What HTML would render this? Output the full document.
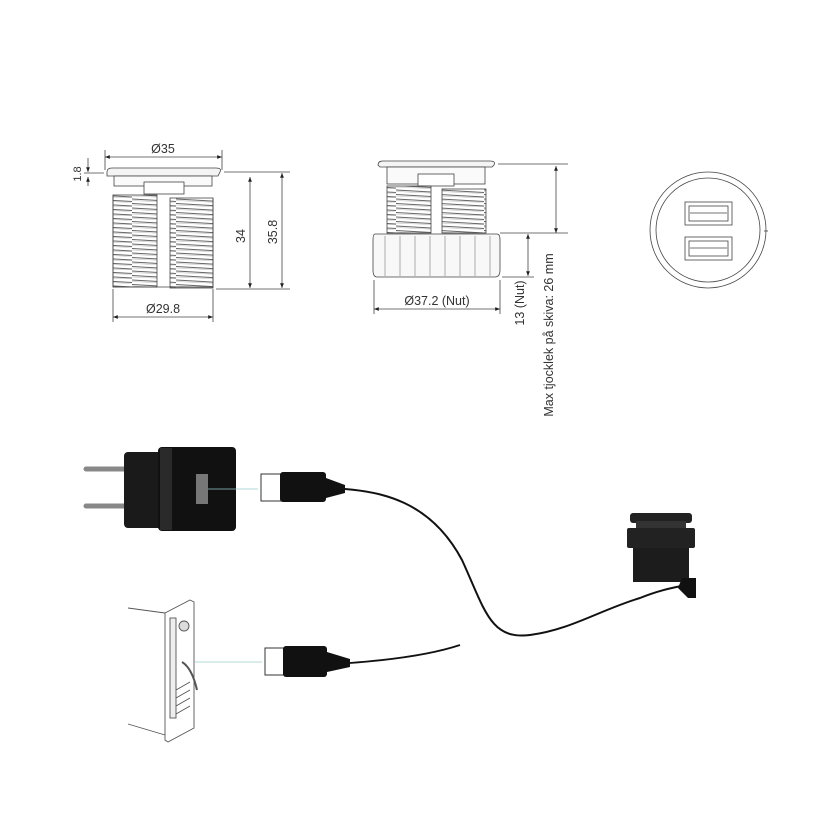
<!DOCTYPE html>
<html><head><style>body{margin:0;background:#fff}svg{display:block}text{font-family:"Liberation Sans",sans-serif;fill:#333}</style></head>
<body>
<svg width="840" height="840" viewBox="0 0 840 840" xmlns="http://www.w3.org/2000/svg">
<defs>
<marker id="a" viewBox="0 0 10 10" refX="10" refY="5" markerWidth="9" markerHeight="6" orient="auto-start-reverse"><path d="M0,1L10,5L0,9z" fill="#222"/></marker>
<pattern id="th" width="44" height="4.5" patternUnits="userSpaceOnUse"><path d="M0,1 L44,3.5" stroke="#666" stroke-width="0.9"/><path d="M0,2.5 L44,4.5" stroke="#bbb" stroke-width="0.6"/></pattern>
</defs>
<g stroke="#444" stroke-width="0.8" fill="none">
<path d="M107,172 Q107,168 112,168 L216,168 Q222,168 220,172 L218,176 L107,176 Z" fill="#f4f4f4"/>
<rect x="114" y="176" width="98" height="10" fill="#fafafa"/>
<rect x="144" y="182" width="40" height="12" fill="#fff"/>
<rect x="113" y="195" width="44" height="92" fill="url(#th)"/>
<rect x="170" y="198" width="43" height="90" fill="url(#th)"/>
<path d="M113,195 V287 H213 V198"/>
<line x1="105" y1="157" x2="222" y2="157" marker-start="url(#a)" marker-end="url(#a)"/>
<line x1="105" y1="150" x2="105" y2="170"/><line x1="222" y1="150" x2="222" y2="170"/>
<line x1="113" y1="317" x2="213" y2="317" marker-start="url(#a)" marker-end="url(#a)"/>
<line x1="113" y1="289" x2="113" y2="322"/><line x1="213" y1="289" x2="213" y2="322"/>
<line x1="250" y1="177" x2="250" y2="288" marker-start="url(#a)" marker-end="url(#a)"/>
<line x1="282" y1="173" x2="282" y2="288" marker-start="url(#a)" marker-end="url(#a)"/>
<line x1="224" y1="172" x2="290" y2="172"/><line x1="216" y1="289" x2="290" y2="289"/>
<line x1="88" y1="158" x2="88" y2="172" marker-end="url(#a)"/>
<line x1="88" y1="186" x2="88" y2="177" marker-end="url(#a)"/>
<line x1="84" y1="173" x2="104" y2="173"/>
<path d="M378,165 Q378,161 383,161 L490,161 Q496,161 494,165 L492,167 L380,167 Z" fill="#f4f4f4"/>
<rect x="387" y="167" width="98" height="17" fill="#fafafa"/>
<rect x="418" y="174" width="36" height="12" fill="#fff"/>
<rect x="387" y="186" width="44" height="47" fill="url(#th)"/>
<rect x="442" y="189" width="44" height="44" fill="url(#th)"/>
<path d="M375,234 H497 Q500,234 500,240 V270 Q500,277 495,277 H377 Q373,277 373,270 V240 Q373,234 375,234Z" fill="#f8f8f8"/>
<g stroke="#999"><line x1="385" y1="236" x2="385" y2="276"/><line x1="400" y1="236" x2="400" y2="276"/><line x1="415" y1="236" x2="415" y2="276"/><line x1="430" y1="236" x2="430" y2="276"/><line x1="445" y1="236" x2="445" y2="276"/><line x1="460" y1="236" x2="460" y2="276"/><line x1="475" y1="236" x2="475" y2="276"/><line x1="490" y1="236" x2="490" y2="276"/></g>
<line x1="374" y1="309" x2="500" y2="309" marker-start="url(#a)" marker-end="url(#a)"/>
<line x1="374" y1="280" x2="374" y2="314"/><line x1="500" y1="280" x2="500" y2="314"/>
<line x1="556" y1="166" x2="556" y2="233" marker-start="url(#a)" marker-end="url(#a)"/>
<line x1="498" y1="164" x2="568" y2="164"/><line x1="500" y1="233" x2="568" y2="233"/>
<line x1="528" y1="234" x2="528" y2="276" marker-start="url(#a)" marker-end="url(#a)"/>
<line x1="502" y1="277" x2="534" y2="277"/>
<circle cx="708" cy="230" r="58"/>
<circle cx="708" cy="230" r="52"/>
<line x1="764" y1="231" x2="768" y2="231"/>
<rect x="685" y="202" width="47" height="23"/><rect x="689" y="206" width="39" height="15"/>
<rect x="685" y="237" width="47" height="23"/><rect x="689" y="241" width="39" height="15"/>
<line x1="690" y1="213" x2="727" y2="213"/><line x1="690" y1="248" x2="727" y2="248"/>
</g>
<text x="163" y="153" font-size="12.5" text-anchor="middle">Ø35</text>
<text x="163" y="313" font-size="12.5" text-anchor="middle">Ø29.8</text>
<text x="437" y="305" font-size="12.5" text-anchor="middle">Ø37.2 (Nut)</text>
<text font-size="12.5" text-anchor="middle" transform="translate(245,236) rotate(-90)">34</text>
<text font-size="12.5" text-anchor="middle" transform="translate(277,232) rotate(-90)">35.8</text>
<text font-size="11" text-anchor="middle" transform="translate(81,174) rotate(-90)">1.8</text>
<text font-size="12.5" text-anchor="middle" transform="translate(524,303) rotate(-90)">13 (Nut)</text>
<text font-size="12.5" text-anchor="middle" transform="translate(553,335) rotate(-90)">Max tjocklek på skiva: 26 mm</text>
<line x1="86" y1="469" x2="126" y2="469" stroke="#888" stroke-width="5" stroke-linecap="round"/>
<line x1="86" y1="506" x2="126" y2="506" stroke="#888" stroke-width="5" stroke-linecap="round"/>
<rect x="124" y="452" width="40" height="76" rx="4" fill="#1a1a1a"/>
<rect x="158" y="447" width="78" height="84" rx="4" fill="#111"/>
<rect x="160" y="448" width="12" height="82" fill="#2a2a2a"/>
<rect x="196" y="474" width="12" height="30" fill="#777"/>
<line x1="208" y1="489" x2="258" y2="489" stroke="#9cc" stroke-width="0.8"/>
<rect x="261" y="474" width="20" height="27" fill="#fff" stroke="#333"/>
<rect x="280" y="472" width="46" height="30" rx="3" fill="#111"/>
<path d="M326,478 L345,485 L345,493 L326,498Z" fill="#111"/>
<path d="M345,489 C380,492 430,500 462,560 C485,610 490,640 530,635 C570,630 600,610 640,598 C660,590 672,588 686,585" stroke="#111" stroke-width="2" fill="none"/>
<rect x="630" y="513" width="62" height="10" rx="3" fill="#222"/>
<rect x="636" y="521" width="50" height="8" fill="#333"/>
<rect x="627" y="528" width="68" height="20" rx="2" fill="#222"/>
<rect x="633" y="548" width="56" height="34" fill="#1c1c1c"/>
<path d="M682,578 L696,578 L696,598 L688,598 L678,588Z" fill="#111"/>
<g stroke="#555" stroke-width="0.9" fill="#fff">
<path d="M128,608 L165,613 M128,724 L165,735" fill="none"/>
<path d="M165,613 L190,600 L194,602 L194,728 L168,742 L165,740Z"/>
<rect x="170" y="618" width="6" height="100" fill="#eee"/>
<circle cx="184" cy="626" r="5" fill="#ddd"/>
<path d="M176,690 L190,682 M176,698 L190,690 M176,706 L190,698 M176,714 L190,706" fill="none"/>
<path d="M182,662 Q192,668 197,690" fill="none" stroke-width="2"/>
</g>
<line x1="195" y1="662" x2="262" y2="662" stroke="#9cc" stroke-width="0.8"/>
<rect x="265" y="648" width="19" height="27" fill="#fff" stroke="#333"/>
<rect x="283" y="646" width="44" height="31" rx="3" fill="#111"/>
<path d="M327,652 L350,659 L350,667 L327,672Z" fill="#111"/>
<path d="M350,663 C390,660 430,655 460,645" stroke="#111" stroke-width="1.8" fill="none"/>
</svg>
</body></html>
